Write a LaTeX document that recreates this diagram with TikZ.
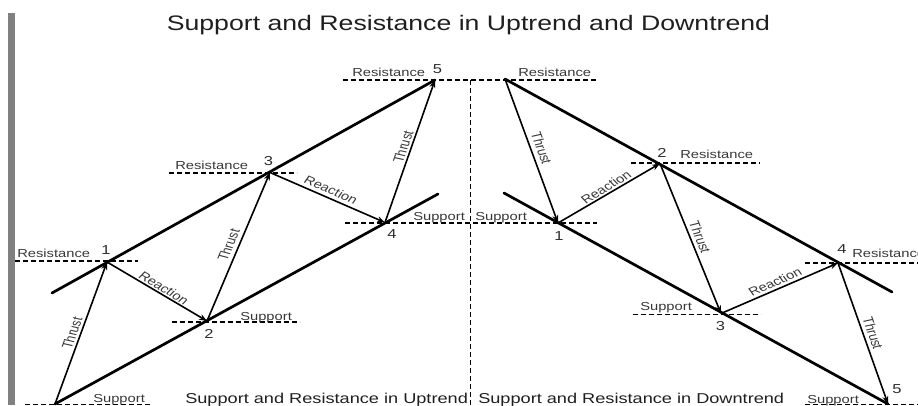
\documentclass[tikz,border=0pt]{standalone}
\usepackage{fontspec}
\setmainfont{Liberation Sans}
\usetikzlibrary{arrows.meta}
\begin{document}
\begin{tikzpicture}[x=1pt,y=-1pt,
  trend/.style={line width=2.7pt,line cap=round},
  arr/.style={line width=1.6pt,-{Stealth[length=8pt,width=6pt]}},
  lvl/.style={dash pattern=on 5pt off 3pt,line width=1.5pt},
  lab/.style={font=\fontsize{11.6}{12}\selectfont,text=black!78,inner sep=0pt,xscale=1.27,anchor=base west},
  num/.style={font=\fontsize{13}{14}\selectfont,text=black!82,inner sep=0pt,xscale=1.27,anchor=base},
  alab/.style={font=\fontsize{11.6}{12}\selectfont,text=black!78,inner sep=0pt,xscale=1.27,anchor=center},
  captxt/.style={font=\fontsize{14.3}{15}\selectfont,text=black!88,inner sep=0pt,xscale=1.27,anchor=base west},
  ttl/.style={font=\fontsize{21}{22}\selectfont,text=black!88,inner sep=0pt,xscale=1.27,anchor=base}]
\useasboundingbox (0,0) rectangle (918,405);
\fill[gray] (8,13) rectangle (15,405);
\node[ttl] (title) at (468.5,30) {Support and Resistance in Uptrend and Downtrend};
% points uptrend
\coordinate (U0) at (55,404);
\coordinate (U1) at (107,262);
\coordinate (U2) at (207,321);
\coordinate (U3) at (270,172.5);
\coordinate (U4) at (385,222.5);
\coordinate (U5) at (435,80);
\coordinate (UAs) at (52,293);
\coordinate (UBe) at (438,194);
% points downtrend
\coordinate (D0) at (505,79);
\coordinate (D1) at (558,223);
\coordinate (D2) at (660,163.5);
\coordinate (D3) at (721,313.5);
\coordinate (D4) at (838,263);
\coordinate (D5) at (888,404);
\coordinate (DAe) at (892,292);
\coordinate (DBs) at (504,193);
% level lines
\coordinate (h1a) at (15,261); \coordinate (h1b) at (138,261);
\coordinate (h2a) at (172,322); \coordinate (h2b) at (300,322);
\coordinate (h3a) at (169,173); \coordinate (h3b) at (297,173);
\coordinate (h4a) at (345,223); \coordinate (h4b) at (597,223);
\coordinate (h5a) at (343,80); \coordinate (h5b) at (598,80);
\coordinate (h6a) at (631,163); \coordinate (h6b) at (760,163);
\coordinate (h7a) at (633,314.5); \coordinate (h7b) at (761,314.5);
\coordinate (h8a) at (805,263); \coordinate (h8b) at (918,263);
\coordinate (h9a) at (25,404.5); \coordinate (h9b) at (150,404.5);
\coordinate (h10a) at (805,404.5); \coordinate (h10b) at (918,404.5);
\coordinate (va) at (470.5,80); \coordinate (vb) at (470.5,405);
\foreach \a/\b in {h1a/h1b,h2a/h2b,h3a/h3b,h4a/h4b,h5a/h5b,h6a/h6b,h7a/h7b,h8a/h8b,h9a/h9b,h10a/h10b,va/vb}
  \draw[lvl] (\a) -- (\b);
% trend lines
\draw[trend] (UAs) -- (U5);
\draw[trend] (U0) -- (UBe);
\draw[trend] (D0) -- (DAe);
\draw[trend] (DBs) -- (D5);
% arrows
\draw[arr] (U0) -- (U1);
\draw[arr] (U1) -- (U2);
\draw[arr] (U2) -- (U3);
\draw[arr] (U3) -- (U4);
\draw[arr] (U4) -- (U5);
\draw[arr] (D0) -- (D1);
\draw[arr] (D1) -- (D2);
\draw[arr] (D2) -- (D3);
\draw[arr] (D3) -- (D4);
\draw[arr] (D4) -- (D5);
% arrow labels
\node[alab,rotate=74] (t01) at (72,333) {Thrust};
\node[alab,rotate=-37.3] (r12) at (164,288) {Reaction};
\node[alab,rotate=71.6] (t23) at (228.5,245) {Thrust};
\node[alab,rotate=-28.4] (r34) at (331,190) {Reaction};
\node[alab,rotate=74.5] (t45) at (403,147) {Thrust};
\node[alab,rotate=-73.8] (dt01) at (541.5,148) {Thrust};
\node[alab,rotate=36.8] (dr12) at (606,187) {Reaction};
\node[alab,rotate=-72.4] (dt23) at (700,237) {Thrust};
\node[alab,rotate=29] (dr34) at (775,282) {Reaction};
\node[alab,rotate=-74.4] (dt45) at (873,333) {Thrust};
% level labels
\node[lab] (lr1) at (17,257) {Resistance};
\node[lab] (ls2) at (240,320) {Support};
\node[lab] (lr3) at (175,169) {Resistance};
\node[lab] (ls4) at (413,220) {Support};
\node[lab] (lr5) at (352,76) {Resistance};
\node[lab] (ls0) at (93,402) {Support};
\node[lab] (dlr0) at (518,76) {Resistance};
\node[lab] (dls1) at (475,220) {Support};
\node[lab] (dlr2) at (680,158) {Resistance};
\node[lab] (dls3) at (640,310) {Support};
\node[lab] (dlr4) at (852,257) {Resistance};
\node[lab] (dls5) at (807,403) {Support};
% numbers
\node[num] (n1) at (106,254) {1};
\node[num] (n2) at (209,338) {2};
\node[num] (n3) at (268.5,165) {3};
\node[num] (n4) at (392,238) {4};
\node[num] (n5) at (437.5,73) {5};
\node[num] (dn1) at (559,240) {1};
\node[num] (dn2) at (662,157) {2};
\node[num] (dn3) at (720.5,330) {3};
\node[num] (dn4) at (842,253) {4};
\node[num] (dn5) at (897,393) {5};
% captions
\node[captxt] (cu) at (185,403) {Support and Resistance in Uptrend};
\node[captxt] (cd) at (478,403) {Support and Resistance in Downtrend};
\end{tikzpicture}
\end{document}
